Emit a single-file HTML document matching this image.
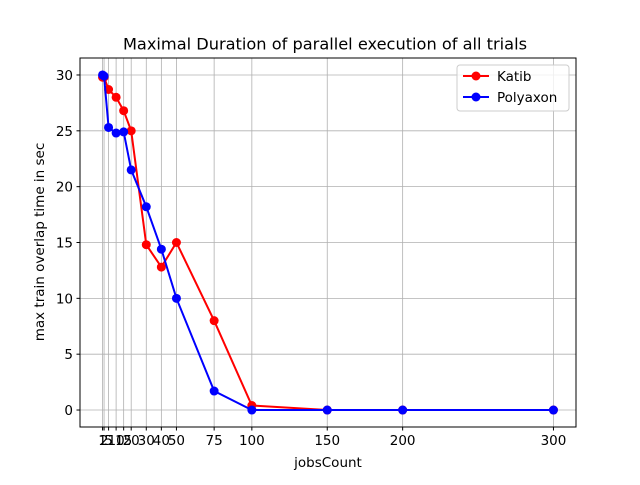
<!DOCTYPE html>
<html><head><meta charset="utf-8"><style>
body{margin:0;background:#fff}
text{font-family:"DejaVu Sans","Liberation Sans",sans-serif;fill:#000}
</style></head><body>
<svg id="chart" width="640" height="480" xmlns="http://www.w3.org/2000/svg">
<text x="325" y="49.5" font-size="16.2" text-anchor="middle">Maximal Duration of parallel execution of all trials</text>
<g id="grid"></g>
<g id="series"></g>
<rect x="80" y="58" width="496" height="369" fill="none" stroke="#000" stroke-width="1"/>
<g id="axes"></g>
<text x="328" y="467" font-size="13.5" text-anchor="middle">jobsCount</text>
<text transform="translate(44,242) rotate(-90)" font-size="13.5" text-anchor="middle">max train overlap time in sec</text>
<g>
<rect x="457" y="65" width="112" height="46" rx="3" fill="#fff" fill-opacity="0.8" stroke="#ccc"/>
<line x1="463" y1="76" x2="489" y2="76" stroke="red" stroke-width="2"/><circle cx="476" cy="76" r="4.5" fill="red"/>
<text x="497" y="81" font-size="13.5">Katib</text>
<line x1="463" y1="97" x2="489" y2="97" stroke="blue" stroke-width="2"/><circle cx="476" cy="97" r="4.5" fill="blue"/>
<text x="497" y="102" font-size="13.5">Polyaxon</text>
</g>
</svg>
<script>
const jobs=[1,2,5,10,15,20,30,40,50,75,100,150,200,300];
const katib=[29.8,29.8,28.7,28.0,26.8,25.0,14.8,12.8,15.0,8.0,0.4,0,0,0];
const polyaxon=[30.0,29.9,25.3,24.8,24.9,21.5,18.2,14.4,10.0,1.7,0,0,0,0];
const yTicks=[0,5,10,15,20,25,30];
const xTicks=[1,2,5,10,15,20,30,40,50,75,100,150,200,300];
const NS="http://www.w3.org/2000/svg";
const L=80,R=576,T=58,B=427,xmin=-13.95,xmax=314.95,ymin=-1.52,ymax=31.52;
const X=v=>L+(v-xmin)/(xmax-xmin)*(R-L);
const Y=v=>B-(v-ymin)/(ymax-ymin)*(B-T);
function mk(tag,at,parent){const e=document.createElementNS(NS,tag);for(const k in at)e.setAttribute(k,at[k]);document.getElementById(parent).appendChild(e);return e;}
xTicks.forEach(v=>{
 const g=mk('line',{x1:X(v),x2:X(v),y1:T,y2:B,stroke:'#b0b0b0','stroke-width':0.8},'grid');
 
 
 mk('line',{x1:X(v),x2:X(v),y1:B,y2:B+3.5,stroke:'#000'},'axes');
 const t=mk('text',{x:X(v),y:B+18,'font-size':13.5,'text-anchor':'middle'},'axes');t.textContent=v;
 
 
});
yTicks.forEach(v=>{
 const g=mk('line',{x1:L,x2:R,y1:Y(v),y2:Y(v),stroke:'#b0b0b0','stroke-width':0.8},'grid');
 
 
 mk('line',{x1:L-3.5,x2:L,y1:Y(v),y2:Y(v),stroke:'#000'},'axes');
 const t=mk('text',{x:L-7,y:Y(v)+5,'font-size':13.5,'text-anchor':'end'},'axes');t.textContent=v;
 
 
});
function series(vals,color,name){
 const p=mk('polyline',{points:jobs.map((j,i)=>X(j)+','+Y(vals[i])).join(' '),fill:'none',stroke:color,'stroke-width':2},'series');
 
 
 jobs.forEach((j,i)=>{const c=mk('circle',{cx:X(j),cy:Y(vals[i]),r:4.5,fill:color},'series');
 
 });
}
series(katib,'red','katib');
series(polyaxon,'blue','polyaxon');
</script>
</body></html>
